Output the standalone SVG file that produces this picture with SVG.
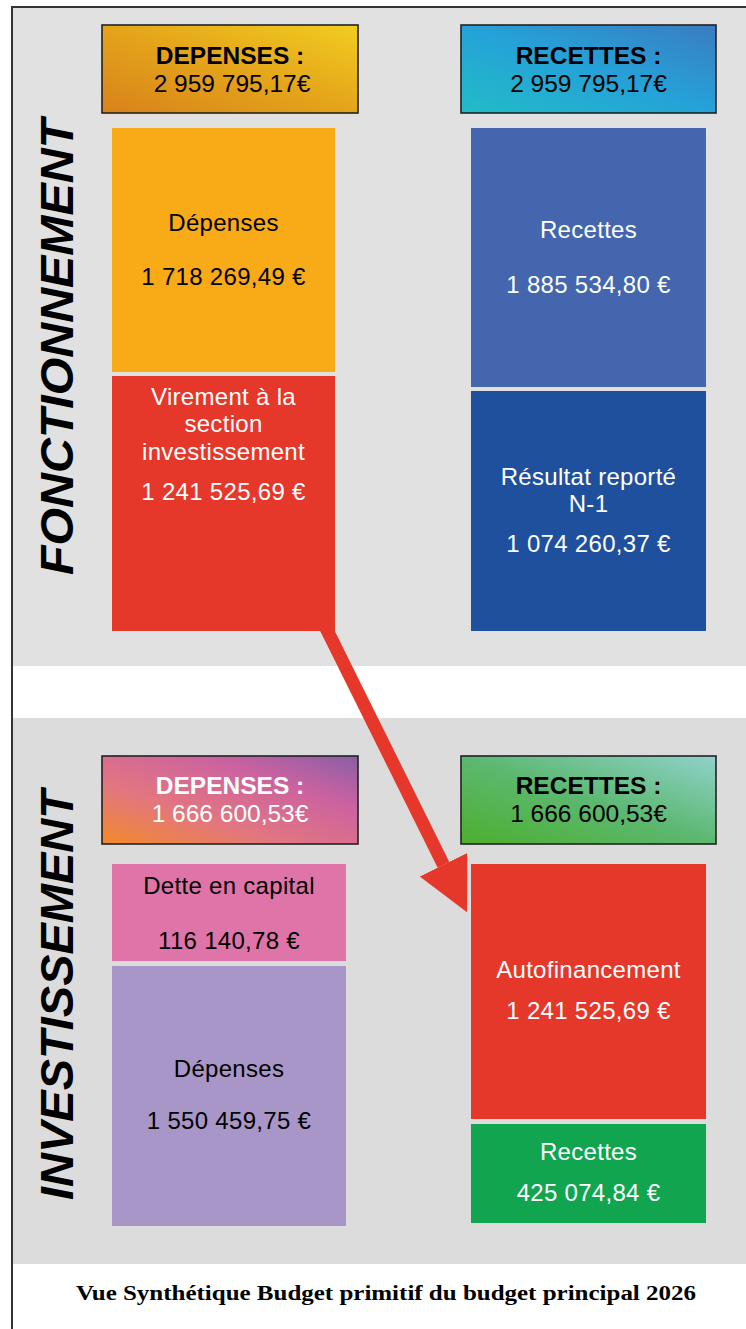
<svg xmlns="http://www.w3.org/2000/svg" width="746" height="1329" viewBox="0 0 746 1329">
<style>
.t{font-family:"Liberation Sans",Arial,Helvetica,sans-serif;font-size:24px;letter-spacing:0.3px;text-anchor:middle}
.h{font-family:"Liberation Sans",Arial,Helvetica,sans-serif;font-size:24.5px;text-anchor:middle}
.b{font-weight:bold}
.w{fill:#ffffff}
.k{fill:#000000}
.hdr{stroke:#222222;stroke-width:1.6}
.side{font-family:"Liberation Sans",Arial,Helvetica,sans-serif;font-size:47px;font-weight:bold;font-style:italic;text-anchor:middle;fill:#000}
</style>
<defs>
<linearGradient id="gDepF" x1="0" y1="1" x2="1" y2="0">
<stop offset="0" stop-color="#d8821a"/><stop offset="0.5" stop-color="#e4a41a"/><stop offset="1" stop-color="#f2cd20"/>
</linearGradient>
<linearGradient id="gRecF" x1="0" y1="1" x2="1" y2="0">
<stop offset="0" stop-color="#22bcc6"/><stop offset="0.5" stop-color="#25a2d8"/><stop offset="1" stop-color="#3a7cc2"/>
</linearGradient>
<linearGradient id="gDepI" x1="0" y1="1" x2="1" y2="0">
<stop offset="0" stop-color="#f28a2a"/><stop offset="0.35" stop-color="#e27680"/><stop offset="0.7" stop-color="#cc62a0"/><stop offset="1" stop-color="#8a5ea6"/>
</linearGradient>
<linearGradient id="gRecI" x1="0" y1="1" x2="1" y2="0">
<stop offset="0" stop-color="#4caf2e"/><stop offset="0.5" stop-color="#5cb870"/><stop offset="1" stop-color="#90d2cc"/>
</linearGradient>
<marker id="ah" markerUnits="userSpaceOnUse" markerWidth="54" markerHeight="54" refX="0" refY="26.5" orient="auto" viewBox="0 0 54 54">
<path d="M0,0 L53,26.5 L0,53 z" fill="#e5372a"/>
</marker>
</defs>

<rect x="0" y="0" width="746" height="1329" fill="#ffffff"/>
<rect x="12" y="7" width="734" height="659" fill="#e1e1e1"/>
<rect x="12" y="718" width="734" height="546" fill="#dcdcdc"/>
<path d="M12,1329 L12,7 L746,7" fill="none" stroke="#333333" stroke-width="2"/>

<text class="side" transform="translate(73,347) rotate(-90)" textLength="456" lengthAdjust="spacingAndGlyphs">FONCTIONNEMENT</text>
<text class="side" transform="translate(73,995) rotate(-90)" textLength="410" lengthAdjust="spacingAndGlyphs">INVESTISSEMENT</text>

<g id="hdr-dep-fonct">
<rect class="hdr" x="102" y="25" width="256" height="88" fill="url(#gDepF)"/>
<text class="h b k" x="230" y="64">DEPENSES :</text>
<text class="h k" x="232" y="92">2 959 795,17€</text>
</g>
<g id="hdr-rec-fonct">
<rect class="hdr" x="461" y="25" width="255" height="88" fill="url(#gRecF)"/>
<text class="h b k" x="588.5" y="64">RECETTES :</text>
<text class="h k" x="588.5" y="92">2 959 795,17€</text>
</g>

<g id="dep-fonct">
<rect x="112" y="128" width="223" height="244" fill="#f8aa17"/>
<text class="t k" x="223.5" y="231">Dépenses</text>
<text class="t k" x="223.5" y="285">1 718 269,49 €</text>
</g>
<g id="virement">
<rect x="112" y="376" width="223" height="255" fill="#e5372a"/>
<text class="t w" x="223.5" y="405">Virement à la</text>
<text class="t w" x="223.5" y="432">section</text>
<text class="t w" x="223.5" y="460">investissement</text>
<text class="t w" x="223.5" y="500">1 241 525,69 €</text>
</g>
<g id="rec-fonct">
<rect x="471" y="128" width="235" height="259" fill="#4466ae"/>
<text class="t w" x="588.5" y="238">Recettes</text>
<text class="t w" x="588.5" y="293">1 885 534,80 €</text>
</g>
<g id="resultat">
<rect x="471" y="391" width="235" height="240" fill="#1f509d"/>
<text class="t w" x="588.5" y="485">Résultat reporté</text>
<text class="t w" x="588.5" y="512">N-1</text>
<text class="t w" x="588.5" y="552">1 074 260,37 €</text>
</g>

<g id="hdr-dep-inv">
<rect class="hdr" x="102" y="756" width="256" height="88" fill="url(#gDepI)"/>
<text class="h b w" x="230" y="794">DEPENSES :</text>
<text class="h w" x="230" y="822">1 666 600,53€</text>
</g>
<g id="hdr-rec-inv">
<rect class="hdr" x="461" y="756" width="255" height="88" fill="url(#gRecI)"/>
<text class="h b k" x="588.5" y="794">RECETTES :</text>
<text class="h k" x="588.5" y="822">1 666 600,53€</text>
</g>

<g id="dette">
<rect x="112" y="864" width="234" height="97" fill="#de74a8"/>
<text class="t k" x="229" y="894">Dette en capital</text>
<text class="t k" x="229" y="949">116 140,78 €</text>
</g>
<g id="dep-inv">
<rect x="112" y="966" width="234" height="260" fill="#a996c8"/>
<text class="t k" x="229" y="1077">Dépenses</text>
<text class="t k" x="229" y="1129">1 550 459,75 €</text>
</g>
<g id="autofinancement">
<rect x="471" y="864" width="235" height="255" fill="#e5372a"/>
<text class="t w" x="588.5" y="978">Autofinancement</text>
<text class="t w" x="588.5" y="1019">1 241 525,69 €</text>
</g>
<g id="rec-inv">
<rect x="471" y="1124" width="235" height="99" fill="#11a550"/>
<text class="t w" x="588.5" y="1160">Recettes</text>
<text class="t w" x="588.5" y="1201">425 074,84 €</text>
</g>

<g id="connectors">
<line x1="323" y1="622" x2="443.5" y2="864.8" stroke="#e5372a" stroke-width="13" marker-end="url(#ah)"/>
</g>

<text x="386" y="1300" font-family="'Liberation Serif','Times New Roman',serif" font-weight="bold" font-size="20" text-anchor="middle" textLength="620" lengthAdjust="spacingAndGlyphs" fill="#000">Vue Synthétique Budget primitif du budget principal 2026</text>
</svg>
